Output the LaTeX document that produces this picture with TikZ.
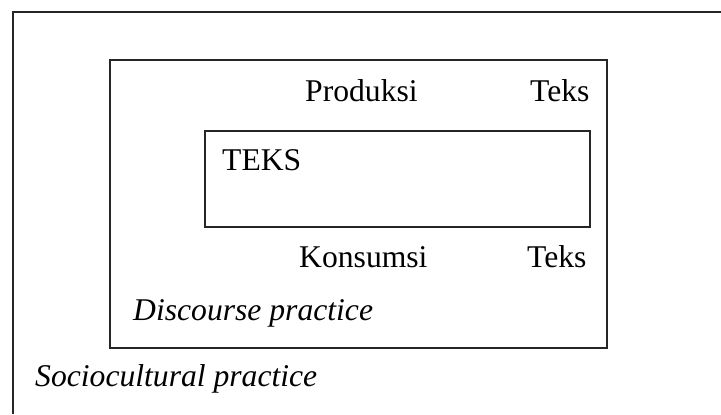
\documentclass[tikz,border=0pt]{standalone}
\usepackage{fontspec}
\setmainfont{Liberation Serif}
\usepackage{tikz}

\tikzset{
  frame/.style={line width=0.9pt, color=black!85},
  label/.style={inner sep=0pt, anchor=base west, font=\fontsize{27}{32}\selectfont},
  slabel/.style={label, font=\fontsize{27}{32}\selectfont\itshape}
}

\begin{document}
\begin{tikzpicture}[x=0.03cm, y=-0.03cm]
			%%%%% START %%%%%
			\useasboundingbox (0, 0) rectangle (721, 414);
			
			% sociocultural practice (runs off the page)
			\draw[frame] (721, 12) -- (13, 12) -- (13, 414);
			
			% discourse practice
			\draw[frame] (110, 60) rectangle (607, 348);
			
			% text
			\draw[frame] (205, 131) rectangle (590, 227);
			
			\node[label] (prod) at (305, 101) {Produksi};
			\node[label] (tekstop) at (530, 101) {Teks};
			\node[label] (teks) at (222, 170) {TEKS};
			\node[label] (kons) at (299, 267) {Konsumsi};
			\node[label] (teksbot) at (527, 267) {Teks};
			\node[slabel] (disc) at (133, 320) {Discourse practice};
			\node[slabel] (socio) at (35, 386) {Sociocultural practice};
			
			%%%%% END %%%%%
\end{tikzpicture}
\end{document}
